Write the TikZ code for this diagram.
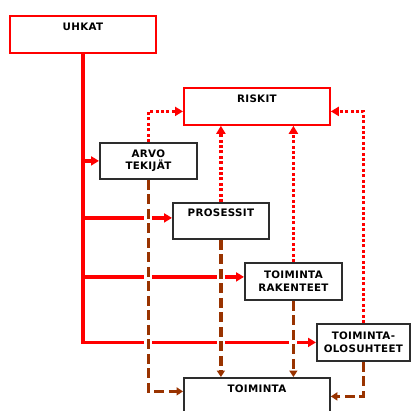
\documentclass[tikz,border=0pt]{standalone}
\usepackage{fontspec}
\setmainfont{DejaVu Sans}[LetterSpace=3]
\usetikzlibrary{arrows.meta,shadows,backgrounds,calc}
\definecolor{rd}{RGB}{255,0,0}
\definecolor{brn}{RGB}{153,51,0}
\definecolor{dk}{RGB}{45,45,45}
\begin{document}
\begin{tikzpicture}[x=1pt,y=-1pt,
  basebox/.style={anchor=north west, inner sep=0pt, align=center, fill=white,
    font=\bfseries\fontsize{10.3}{12.5}\selectfont, line width=1.8pt},
  redbox/.style={basebox, draw=rd},
  blkbox/.style={basebox, draw=dk, drop shadow={shadow xshift=0.8pt, shadow yshift=-1.3pt, fill=gray!70, opacity=1}},
  solidarrow/.style={draw=rd, line width=3.2pt, -{Triangle[length=8pt,width=9pt]}},
  dotarrow/.style={draw=rd, line width=3.2pt, dash pattern=on 3pt off 2.4pt, -{Triangle[length=8pt,width=9pt]}},
  brnarrow/.style={draw=brn, line width=3.2pt, dash pattern=on 10pt off 4.5pt,
    preaction={draw=white, line width=8pt, solid, arrows=-},
    -{Triangle[length=6.5pt,width=8pt]}}
]
\useasboundingbox (0,0) rectangle (411,410);
\node[redbox, minimum width=146pt, minimum height=37pt] (u) at (9,15) {UHKAT\\\strut};
\node[redbox, minimum width=146pt, minimum height=37pt] (k) at (183,87) {RISKIT\\\strut};
\node[blkbox, minimum width=97pt, minimum height=36pt] (a) at (99,142) {ARVO\\TEKIJÄT};
\node[blkbox, minimum width=96pt, minimum height=36pt] (p) at (172,202) {PROSESSIT\\\strut};
\node[blkbox, minimum width=97pt, minimum height=37pt] (r) at (244,262) {TOIMINTA\\RAKENTEET};
\node[blkbox, minimum width=93pt, minimum height=37pt] (o) at (316,323) {TOIMINTA-\\OLOSUHTEET};
\node[blkbox, minimum width=146pt, minimum height=37pt] (t) at (183,377) {TOIMINTA\\\strut};
\begin{scope}[on background layer]
  % red solid
  \draw[solidarrow] (u.south) |- (o.west);
  \draw[solidarrow] (u.south |- a.west) -- (a.west);
  \draw[solidarrow] ($(u.south |- p.west)+(0,-3)$) -- ($(p.west)+(0,-3)$);
  \draw[solidarrow] ($(u.south |- r.west)+(0,-4.5)$) -- ($(r.west)+(0,-4.5)$);
  % brown dashed
  \draw[brnarrow] (a.south) |- ($(t.west)+(0,-5)$);
  \draw[brnarrow] (p.south) -- (p.south |- t.north);
  \draw[brnarrow] (r.south) -- (r.south |- t.north);
  \draw[brnarrow] (o.south) |- (t.east);
  % red dotted
  \draw[dotarrow] (a.north) |- ($(k.west)+(0,5)$);
  \draw[dotarrow] (p.north) -- (p.north |- k.south);
  \draw[dotarrow] (r.north) -- (r.north |- k.south);
  \draw[dotarrow] (o.north) |- ($(k.east)+(0,5)$);
\end{scope}
\end{tikzpicture}
\end{document}
